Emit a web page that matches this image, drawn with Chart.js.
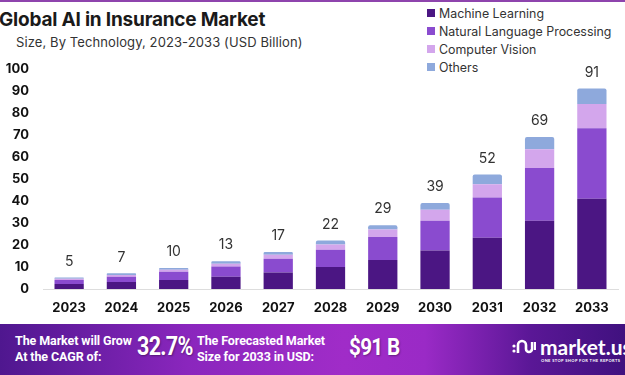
<!DOCTYPE html>
<html lang="en">
<head>
<meta charset="UTF-8">
<title>Global AI in Insurance Market</title>
<script src="https://cdn.jsdelivr.net/npm/chart.js"></script>
<style>
    body { margin: 0; width: 625px; height: 375px; overflow: hidden; background: #fff; font-family: "Inter", "Lato", sans-serif; position: relative; }
    #topline { position: absolute; left: 0; top: 0; width: 625px; height: 2px; background: #8e44ad; }
    #title { position: absolute; left: -1px; top: 8px; font-size: 19px; font-weight: 700; color: #1a1a1a; letter-spacing: -0.2px; }
    #subtitle { position: absolute; left: 16px; top: 34px; font-size: 13px; color: #333; letter-spacing: 0.1px; }
    #legend { position: absolute; left: 427px; top: 4px; font-size: 12.4px; color: #333; }
    .leg { display: flex; align-items: center; height: 18px; }
    .leg span { display: inline-block; width: 8px; height: 8px; margin-right: 4px; }
    #chartBox { position: absolute; left: 0; top: 47px; width: 625px; height: 278px; }
    #banner { position: absolute; left: 0; top: 324px; width: 625px; height: 51px;
        background: linear-gradient(90deg, #4f178f 0%, #8a26bd 30%, #a02cc8 55%, #9a2ac6 68%, #5a1796 85%, #40117f 100%);
        color: #fff; font-family: "Roboto", sans-serif; font-weight: 700; white-space: nowrap; }
    .b { position: absolute; }
    .small { font-size: 12.5px; line-height: 16px; letter-spacing: -0.1px; }
    .big { font-size: 25px; letter-spacing: -0.8px; transform: scaleX(0.86); transform-origin: left center; text-shadow: 1px 1px 2px rgba(0,0,0,0.35); }
</style>
</head>
<body>
<div id="topline"></div>
<div id="title">Global AI in Insurance Market</div>
<div id="subtitle">Size, By Technology, 2023-2033 (USD Billion)</div>
<div id="legend"></div>
<div id="chartBox"><canvas id="chart"></canvas></div>
<div id="banner">
    <div class="b small" style="left:15px; top:9px;">The Market will Grow<br>At the CAGR of:</div>
    <div class="b big" style="left:137px; top:8px;">32.7%</div>
    <div class="b small" style="left:197px; top:9px;">The Forecasted Market<br>Size for 2033 in USD:</div>
    <div class="b big" style="left:349px; top:9px; font-size:24px;">$91 B</div>
    <svg class="b" style="left:512px; top:13px;" width="24" height="20" viewBox="0 0 24 20">
        <circle cx="2" cy="9" r="1.6" fill="#fff"/>
        <circle cx="2" cy="14" r="1.6" fill="#fff"/>
        <path d="M6 16 V8 a4 4 0 0 1 8 0 V12 a3 3 0 0 0 6 0" stroke="#fff" stroke-width="2.6" fill="none"/>
        <path d="M20 5 V13 M23 5 V13" stroke="#fff" stroke-width="2.4"/>
    </svg>
    <div class="b" style="left:540px; top:10px; font-size:21px; font-family:'Lato',sans-serif; font-weight:700;">market.us</div>
    <div class="b" style="left:541px; top:34px; font-size:4px; font-family:'Lato',sans-serif; letter-spacing:0.4px;">ONE STOP SHOP FOR THE REPORTS</div>
</div>

<script>
    const years = ["2023", "2024", "2025", "2026", "2027", "2028", "2029", "2030", "2031", "2032", "2033"];
    const machineLearning = [2.3, 3.2, 4.1, 5.6, 7.5, 10, 13.2, 17.5, 23.3, 31, 41];
    const nlp = [1.8, 2.4, 3.7, 4.6, 6.2, 7.8, 10.4, 13.5, 18.3, 24, 32];
    const computerVision = [0.6, 0.8, 0.9, 1.3, 1.9, 2.4, 3.4, 5, 6, 8.5, 11];
    const others = [0.5, 0.7, 0.8, 1.1, 1.2, 1.8, 2, 3, 4.4, 5.5, 7];
    const totals = [5, 7, 10, 13, 17, 22, 29, 39, 52, 69, 91];

    const seriesNames = ["Machine Learning", "Natural Language Processing", "Computer Vision", "Others"];
    const seriesColors = ["#4b1683", "#8a4bcf", "#d3a6ec", "#8ea9dc"];
    const seriesData = [machineLearning, nlp, computerVision, others];

    const legend = document.getElementById("legend");
    seriesNames.forEach((name, i) => {
        const row = document.createElement("div");
        row.className = "leg";
        row.innerHTML = `<span style="background:${seriesColors[i]}"></span>${name}`;
        legend.appendChild(row);
    });

    // totals written above each stack
    const totalLabels = {
        id: "totalLabels",
        afterDatasetsDraw(chart) {
            const ctx = chart.ctx;
            const meta = chart.getDatasetMeta(3);
            ctx.save();
            ctx.font = "14px Inter, Lato, sans-serif";
            ctx.fillStyle = "#333";
            ctx.textAlign = "center";
            ctx.textBaseline = "middle";
            meta.data.forEach((bar, i) => {
                ctx.fillText(totals[i], bar.x, bar.y - 16);
            });
            ctx.restore();
        }
    };

    new Chart(document.getElementById("chart"), {
        type: "bar",
        data: {
            labels: years,
            datasets: seriesData.map((d, i) => ({
                label: seriesNames[i],
                data: d,
                backgroundColor: seriesColors[i],
                barPercentage: 0.56,
                categoryPercentage: 1,
                borderRadius: i === 3 ? { topLeft: 2, topRight: 2 } : 0,
                borderSkipped: false
            }))
        },
        options: {
            responsive: true,
            maintainAspectRatio: false,
            animation: false,
            layout: { padding: { top: 6, right: 7, left: 0, bottom: 0 } },
            plugins: {
                legend: { display: false },
                tooltip: { enabled: false }
            },
            scales: {
                x: {
                    stacked: true,
                    grid: { display: false, drawTicks: false },
                    border: { color: "#dddddd" },
                    ticks: { color: "#111", font: { family: "Inter, Lato, sans-serif", size: 13, weight: "bold" }, padding: 11 },
                    afterFit: s => { s.height = 36; }
                },
                y: {
                    stacked: true,
                    min: 0,
                    max: 100,
                    grid: { display: false, drawTicks: false },
                    border: { display: false },
                    ticks: { stepSize: 10, color: "#111", font: { family: "Inter, Lato, sans-serif", size: 13, weight: "bold" }, padding: 14 },
                    afterFit: s => { s.width = 43; }
                }
            }
        },
        plugins: [totalLabels]
    });
</script>
</body>
</html>
